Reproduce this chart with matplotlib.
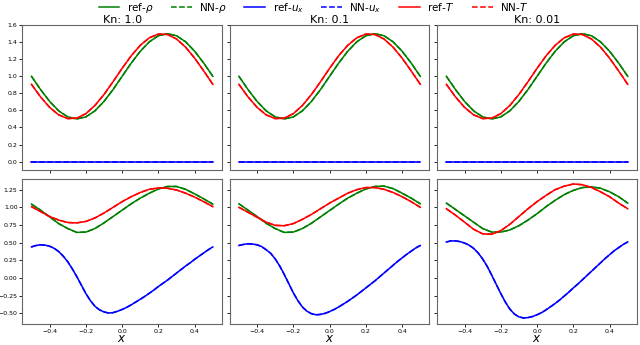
import numpy as np
import matplotlib
matplotlib.use("Agg")
import matplotlib.pyplot as plt

# grids: coarse for rho/T, finer for the velocity curves (sharper bends)
x = np.round(np.arange(-0.5, 0.5001, 0.05), 3)
x_fine = np.round(np.arange(-0.5, 0.5001, 0.025), 4)

kn_labels = ["Kn: 1.0", "Kn: 0.1", "Kn: 0.01"]

# initial state (top row, identical for all Kn)
rho_init = [1.0, 0.845, 0.706, 0.595, 0.524, 0.5, 0.524, 0.595, 0.706, 0.845, 1.0,
            1.155, 1.294, 1.405, 1.476, 1.5, 1.476, 1.405, 1.294, 1.155, 1.0]
T_init = [0.906, 0.759, 0.636, 0.548, 0.504, 0.509, 0.562, 0.658, 0.787, 0.937, 1.094,
          1.241, 1.364, 1.452, 1.496, 1.491, 1.438, 1.342, 1.213, 1.063, 0.906]
u_init = [0.0] * 41

# final state (bottom row), one list per Kn
rho_kn1 = [1.045, 0.96, 0.865, 0.77, 0.70, 0.645, 0.65, 0.70, 0.78, 0.87, 0.96,
           1.05, 1.13, 1.20, 1.26, 1.295, 1.295, 1.255, 1.19, 1.12, 1.045]
T_kn1 = [1.01, 0.94, 0.87, 0.82, 0.785, 0.78, 0.80, 0.85, 0.92, 1.00, 1.08,
         1.15, 1.21, 1.255, 1.275, 1.27, 1.245, 1.20, 1.145, 1.08, 1.01]
u_kn1 = [0.44, 0.46, 0.47, 0.465, 0.45, 0.42, 0.375, 0.31, 0.23, 0.13, 0.02,
         -0.10, -0.22, -0.32, -0.40, -0.45, -0.48, -0.495, -0.49, -0.47, -0.445,
         -0.415, -0.38, -0.34, -0.30, -0.26, -0.215, -0.17, -0.12, -0.075, -0.03,
         0.02, 0.07, 0.12, 0.17, 0.215, 0.265, 0.31, 0.355, 0.40, 0.44]

rho_kn2 = [1.05, 0.96, 0.87, 0.775, 0.70, 0.645, 0.65, 0.70, 0.775, 0.865, 0.955,
           1.045, 1.13, 1.20, 1.26, 1.295, 1.30, 1.265, 1.20, 1.13, 1.05]
T_kn2 = [1.00, 0.93, 0.86, 0.79, 0.745, 0.74, 0.77, 0.83, 0.90, 0.98, 1.06,
         1.13, 1.20, 1.25, 1.28, 1.28, 1.255, 1.21, 1.15, 1.08, 1.00]
u_kn2 = [0.46, 0.475, 0.485, 0.48, 0.47, 0.445, 0.40, 0.35, 0.27, 0.17, 0.05,
         -0.08, -0.21, -0.32, -0.41, -0.47, -0.505, -0.52, -0.515, -0.50, -0.475,
         -0.445, -0.41, -0.37, -0.33, -0.285, -0.24, -0.19, -0.14, -0.09, -0.04,
         0.015, 0.07, 0.125, 0.18, 0.235, 0.285, 0.335, 0.38, 0.425, 0.46]

rho_kn3 = [1.06, 0.97, 0.88, 0.79, 0.70, 0.65, 0.65, 0.68, 0.74, 0.82, 0.91,
           1.01, 1.10, 1.18, 1.24, 1.28, 1.29, 1.27, 1.22, 1.15, 1.06]
T_kn3 = [0.98, 0.89, 0.79, 0.69, 0.625, 0.62, 0.67, 0.76, 0.87, 0.98, 1.08,
         1.17, 1.25, 1.30, 1.33, 1.32, 1.28, 1.22, 1.15, 1.06, 0.98]
u_kn3 = [0.51, 0.525, 0.525, 0.515, 0.495, 0.465, 0.42, 0.355, 0.27, 0.165, 0.04,
         -0.09, -0.22, -0.34, -0.44, -0.51, -0.55, -0.565, -0.56, -0.545, -0.52,
         -0.49, -0.45, -0.405, -0.36, -0.31, -0.255, -0.20, -0.14, -0.085, -0.025,
         0.035, 0.095, 0.155, 0.215, 0.275, 0.33, 0.385, 0.43, 0.475, 0.51]

final_states = [(rho_kn1, u_kn1, T_kn1), (rho_kn2, u_kn2, T_kn2), (rho_kn3, u_kn3, T_kn3)]


def draw(ax, rho, u, T):
    ax.plot(x, rho, color="g", lw=1.1, label=r"ref-$\rho$")
    ax.plot(x, rho, color="g", lw=1.1, ls="--", label=r"NN-$\rho$")
    ax.plot(x_fine, u, color="b", lw=1.1, label=r"ref-$u_x$")
    ax.plot(x_fine, u, color="b", lw=1.1, ls="--", label=r"NN-$u_x$")
    ax.plot(x, T, color="r", lw=1.1, label=r"ref-$T$")
    ax.plot(x, T, color="r", lw=1.1, ls="--", label=r"NN-$T$")


fig, axes = plt.subplots(2, 3, figsize=(6.4, 3.45), dpi=100, sharex=True, sharey="row")
fig.subplots_adjust(left=0.035, right=0.995, top=0.927, bottom=0.061, wspace=0.04, hspace=0.062)

for j in range(3):
    draw(axes[0, j], rho_init, u_init, T_init)
    draw(axes[1, j], *final_states[j])
    axes[0, j].set_title(kn_labels[j], fontsize=8, pad=1)
    axes[1, j].set_xlabel("$x$", fontsize=8.5, labelpad=-1)

for ax in axes.flat:
    ax.tick_params(labelsize=4.5, length=2, width=0.6, pad=1.5)
    for s in ax.spines.values():
        s.set_linewidth(0.8)
        s.set_color("0.4")

axes[0, 0].set_xlim(-0.55, 0.55)
axes[0, 0].set_xticks([-0.4, -0.2, 0.0, 0.2, 0.4])
axes[0, 0].set_ylim(-0.1, 1.6)
axes[0, 0].set_yticks(np.arange(0, 1.61, 0.2))
axes[1, 0].set_ylim(-0.65, 1.4)
axes[1, 0].set_yticks([-0.5, -0.25, 0.0, 0.25, 0.5, 0.75, 1.0, 1.25])

handles, labels = axes[0, 0].get_legend_handles_labels()
fig.legend(handles, labels, loc="upper center", bbox_to_anchor=(0.49, 1.018), ncol=6,
           frameon=False, fontsize=7.5, handlelength=2.0, handletextpad=0.7,
           columnspacing=1.7, borderpad=0.2)

fig.savefig("out.png", dpi=100)
